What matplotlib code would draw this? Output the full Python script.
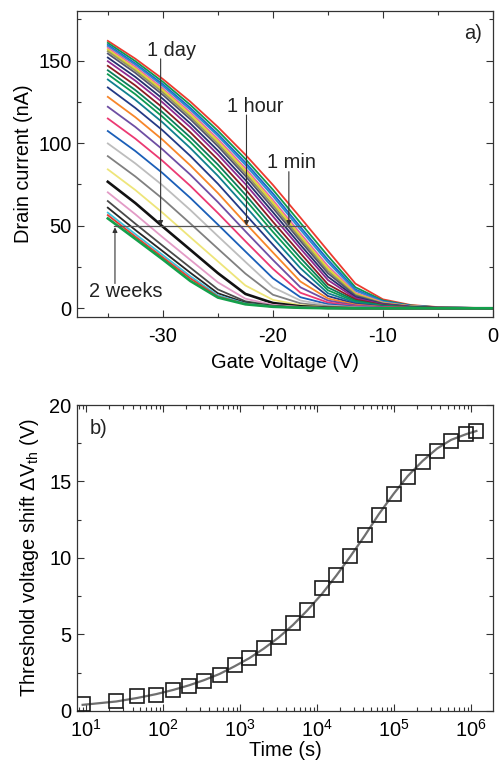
import numpy as np
import matplotlib
matplotlib.use("Agg")
import matplotlib.pyplot as plt
from matplotlib.ticker import MultipleLocator, LogLocator, NullFormatter

plt.rcParams['font.family'] = ['Liberation Sans', 'DejaVu Sans']
plt.rcParams['mathtext.fontset'] = 'custom'
plt.rcParams['mathtext.rm'] = 'Liberation Sans'
plt.rcParams['mathtext.it'] = 'Liberation Sans:italic'
plt.rcParams['axes.unicode_minus'] = False
plt.rcParams['font.size'] = 14.4

# panel a) transfer curves, gate voltage grid (V) and drain current (nA),
# one row per curve from the 2 weeks curve (bottom) to the first curve (top)
gate_voltage = [-35, -32.5, -30, -27.5, -25, -22.5, -20, -17.5, -15, -12.5, -10, -7.5, -5, 0]
drain_current = [
    [54.4, 42.0, 29.5, 16.5, 6.5, 2.4, 0.9, 0.3, 0, 0, 0, 0, 0, 0],
    [56.4, 43.4, 30.8, 18.1, 7.1, 2.6, 1.0, 0.35, 0, 0, 0, 0, 0, 0],
    [57.9, 44.9, 32.2, 19.4, 7.8, 2.9, 1.05, 0.4, 0, 0, 0, 0, 0, 0],
    [60.9, 47.4, 34.5, 21.5, 9.1, 3.4, 1.2, 0.45, 0, 0, 0, 0, 0, 0],
    [64.9, 51.2, 37.8, 24.6, 11.4, 4.2, 1.55, 0.57, 0.2, 0, 0, 0, 0, 0],
    [70.2, 56.9, 42.9, 29.3, 15.7, 5.8, 2.1, 0.8, 0.3, 0, 0, 0, 0, 0],
    [76.6, 63.7, 49.4, 35.4, 21.3, 8.7, 3.2, 1.2, 0.4, 0, 0, 0, 0, 0],
    [84.1, 71.6, 57.7, 43.0, 28.4, 13.8, 5.1, 1.9, 0.7, 0.25, 0, 0, 0, 0],
    [92.1, 79.8, 66.2, 51.3, 36.1, 21.0, 8.2, 3.0, 1.1, 0.4, 0, 0, 0, 0],
    [99.8, 87.7, 74.3, 59.5, 43.7, 28.1, 12.7, 4.7, 1.7, 0.6, 0.2, 0, 0, 0],
    [107.3, 95.2, 81.7, 66.8, 50.7, 34.4, 18.2, 6.7, 2.5, 0.9, 0.3, 0, 0, 0],
    [114.9, 102.7, 89.1, 74.1, 57.7, 40.6, 23.9, 9.4, 3.5, 1.3, 0.5, 0, 0, 0],
    [122.0, 109.8, 96.0, 80.9, 64.3, 46.6, 29.3, 12.7, 4.7, 1.7, 0.6, 0.2, 0, 0],
    [128.0, 115.7, 101.9, 86.5, 69.8, 51.6, 33.8, 16.2, 5.9, 2.2, 0.8, 0.3, 0, 0],
    [133.7, 121.3, 107.6, 92.2, 75.4, 56.9, 38.5, 20.4, 7.4, 2.7, 1.0, 0.4, 0, 0],
    [138.5, 126.2, 112.4, 97.0, 80.2, 61.8, 42.7, 24.3, 9.1, 3.4, 1.2, 0.45, 0, 0],
    [141.7, 129.6, 115.8, 100.7, 83.9, 65.7, 46.3, 27.7, 10.9, 4.0, 1.5, 0.5, 0.2, 0],
    [144.1, 132.1, 118.5, 103.5, 87.0, 68.8, 49.3, 30.5, 12.6, 4.6, 1.7, 0.6, 0.2, 0],
    [146.8, 134.9, 121.4, 106.5, 90.0, 72.0, 52.4, 33.3, 14.5, 5.3, 2.0, 0.7, 0.3, 0],
    [149.6, 137.8, 124.5, 109.6, 93.1, 75.2, 55.7, 36.2, 17.1, 6.1, 2.3, 0.8, 0.3, 0],
    [151.8, 140.1, 126.8, 111.9, 95.5, 77.7, 58.2, 38.4, 19.1, 6.8, 2.5, 0.9, 0.3, 0],
    [154.2, 142.5, 129.2, 114.4, 98.1, 80.1, 60.7, 40.7, 21.2, 7.6, 2.8, 1.0, 0.4, 0],
    [155.6, 143.9, 130.7, 115.9, 99.6, 81.7, 62.4, 42.2, 22.6, 8.2, 3.0, 1.1, 0.4, 0],
    [156.6, 145.0, 132.0, 117.3, 101.1, 83.3, 64.1, 43.7, 24.1, 8.8, 3.2, 1.2, 0.4, 0],
    [157.7, 146.2, 133.1, 118.6, 102.5, 84.8, 65.6, 45.3, 25.6, 9.4, 3.5, 1.3, 0.5, 0],
    [158.7, 147.4, 134.6, 120.2, 104.4, 86.8, 67.9, 47.6, 27.9, 10.6, 3.9, 1.4, 0.5, 0],
    [159.5, 148.2, 135.6, 121.3, 105.5, 88.3, 69.5, 49.2, 29.4, 11.4, 4.2, 1.5, 0.6, 0],
    [160.7, 149.6, 137.1, 123.1, 107.5, 90.4, 71.8, 51.7, 31.7, 12.7, 4.7, 1.7, 0.6, 0],
    [161.9, 151.1, 138.8, 125.1, 109.8, 93.0, 74.7, 54.9, 34.8, 14.9, 5.4, 2.0, 0.7, 0],
]
curve_colors = [
    '#13a04b', '#e8392f', '#3cc3dc', '#262626', '#4a4a4a', '#e39bc6', '#111111',
    '#eee57a', '#808080', '#bdbdbd', '#1b5fb8', '#ec3a73', '#6e4ea3', '#f7862a',
    '#233a86', '#10808f', '#0c9a52', '#0a7e5a', '#8e1b22', '#8d2a90', '#242f6e',
    '#555570', '#9a9a5a', '#e3da2a', '#e76aa8', '#2a8fd0', '#1a66c8', '#0e9a4e',
    '#ec3b2f',
]

# arrows: label, x of arrow (V), start current, text position
arrow_labels = ['1 day', '1 hour', '1 min', '2 weeks']
arrow_x = [-30.2, -22.4, -18.55, -34.35]
arrow_from = [151, 117, 82.7, 15]
label_x = [-29.2, -21.6, -18.3, -33.4]
label_y = [156, 122.4, 88.3, 10]
ref_current = 50
ref_line_x = [-34.4, -17.1]

# panel b) threshold voltage shift vs time
time_s = [9, 24.6, 46, 81, 136, 218, 342, 541, 847, 1315, 2020, 3163, 4855, 7380,
          11560, 17780, 27040, 41500, 63100, 98900, 150300, 235500, 361400,
          550000, 870000, 1174000]
dvth = [0.48, 0.66, 0.98, 1.05, 1.36, 1.64, 1.97, 2.34, 2.99, 3.43, 4.09, 4.85,
        5.75, 6.60, 8.02, 8.90, 10.12, 11.48, 12.79, 14.21, 15.30, 16.28, 17.0,
        17.66, 18.10, 18.32]
dvth_fit = [0.40, 0.62, 0.85, 1.10, 1.38, 1.68, 2.02, 2.42, 2.92, 3.45, 4.07, 4.80,
            5.62, 6.55, 7.65, 8.85, 10.1, 11.45, 12.85, 14.2, 15.35, 16.35, 17.15,
            17.72, 18.1, 18.3]

fig = plt.figure(figsize=(4.99, 7.63), dpi=100)
ax1 = fig.add_axes([0.1543, 0.5845, 0.8337, 0.4011])
ax2 = fig.add_axes([0.1543, 0.0682, 0.8337, 0.4010])

for ax in (ax1, ax2):
    for s in ax.spines.values():
        s.set_color('#333333')
        s.set_linewidth(0.9)
    ax.tick_params(which='both', direction='in', top=True, right=True,
                   color='#333333', width=0.8)
    ax.tick_params(which='major', length=5, pad=4)
    ax.tick_params(which='minor', length=3)
ax1.tick_params(axis='x', which='major', pad=7)
ax2.tick_params(axis='x', which='major', pad=6)

# ---- panel a
for row, col in reversed(list(zip(drain_current, curve_colors))):
    lw = 1.9 if col in ('#13a04b', '#111111') else 1.3
    ax1.plot(gate_voltage, row, color=col, lw=lw, solid_joinstyle='round')

ax1.plot(ref_line_x, [ref_current, ref_current], color='#555555', lw=0.9)
for lab, x0, y0, lx, ly in zip(arrow_labels, arrow_x, arrow_from, label_x, label_y):
    ax1.annotate('', xy=(x0, ref_current if y0 > ref_current else ref_current - 1),
                 xytext=(x0, y0),
                 arrowprops=dict(arrowstyle='-|>', color='#333333', lw=0.8,
                                 mutation_scale=7, shrinkA=0, shrinkB=0))
    ax1.text(lx, ly, lab, ha='center', va='center', color='#222222')
ax1.text(0.973, 0.927, 'a)', transform=ax1.transAxes, ha='right', va='center',
         color='#222222')

ax1.set_xlim(-37.8, 0)
ax1.set_ylim(-5.3, 180)
ax1.xaxis.set_major_locator(MultipleLocator(10))
ax1.xaxis.set_minor_locator(MultipleLocator(5))
ax1.yaxis.set_major_locator(MultipleLocator(50))
ax1.yaxis.set_minor_locator(MultipleLocator(25))
ax1.set_xlabel('Gate Voltage (V)', labelpad=5)
ax1.set_ylabel('Drain current (nA)', labelpad=4)

# ---- panel b
ax2.plot(time_s, dvth_fit, color='#6f6f6f', lw=1.6, zorder=2)
ax2.plot(time_s, dvth, ls='none', marker='s', ms=9.5, mfc='none', mec='#1a1a1a',
         mew=1.2, zorder=3)
ax2.set_xscale('log')
ax2.set_xlim(7.6, 1.93e6)
ax2.set_ylim(0, 20)
ax2.xaxis.set_major_locator(LogLocator(base=10, numticks=12))
ax2.xaxis.set_minor_locator(LogLocator(base=10, subs=np.arange(2, 10), numticks=12))
ax2.xaxis.set_minor_formatter(NullFormatter())
ax2.yaxis.set_major_locator(MultipleLocator(5))
ax2.yaxis.set_minor_locator(MultipleLocator(2.5))
ax2.text(0.03, 0.924, 'b)', transform=ax2.transAxes, ha='left', va='center',
         color='#222222')
ax2.set_xlabel('Time (s)', labelpad=0)
ax2.set_ylabel('Threshold voltage shift ΔV$_{\\mathregular{th}}$ (V)', labelpad=6)

fig.savefig('out.png', dpi=100)
